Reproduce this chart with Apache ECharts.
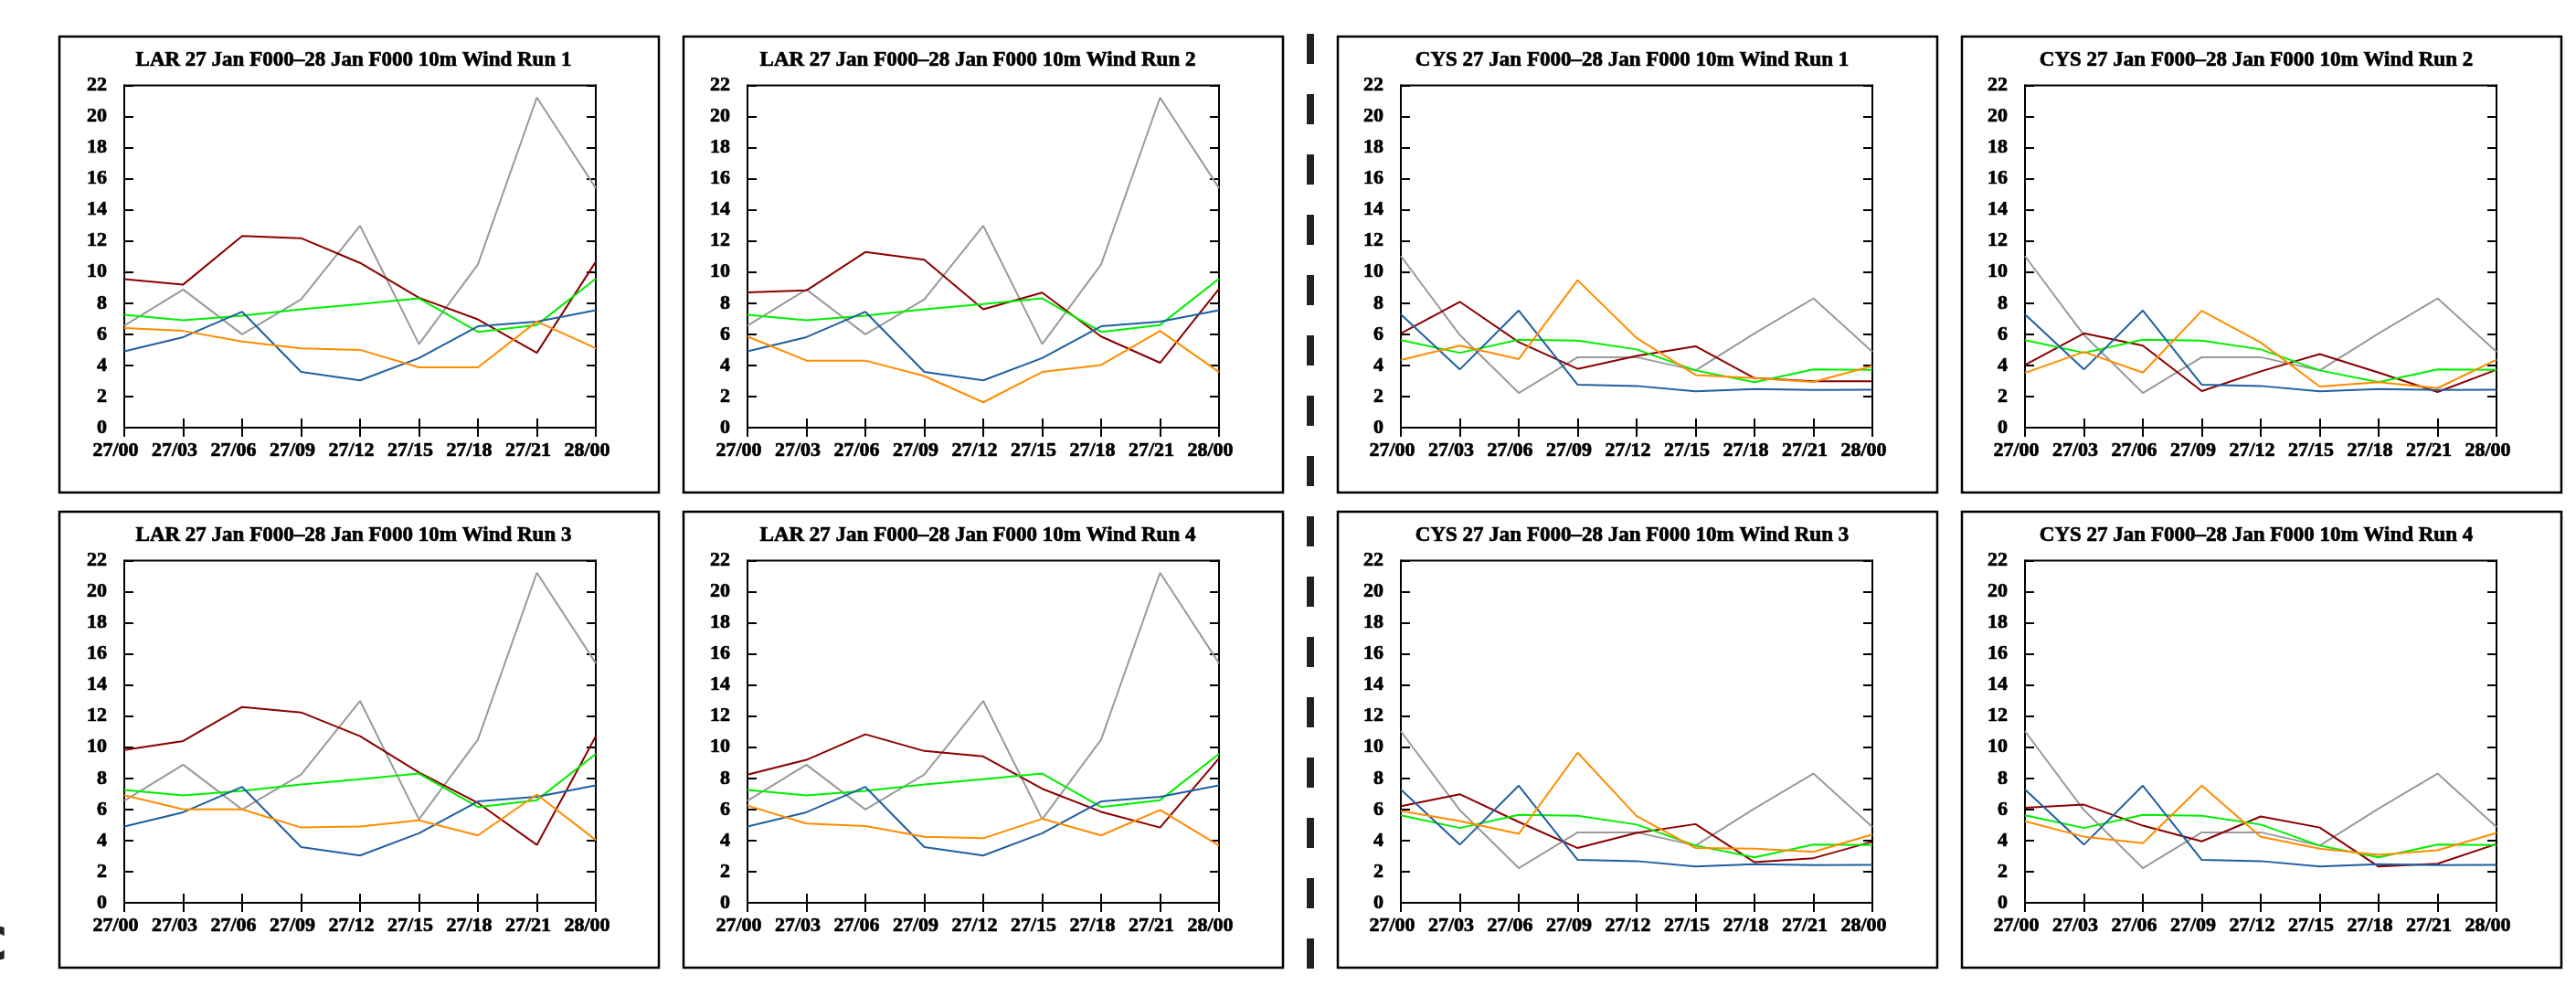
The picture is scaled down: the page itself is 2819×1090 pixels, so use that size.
<!DOCTYPE html>
<html>
<head>
<meta charset="utf-8">
<title>LAR / CYS 10m Wind Runs</title>
<script src="https://cdn.jsdelivr.net/npm/echarts@6/dist/echarts.min.js"></script>
<style>
  html, body { margin: 0; padding: 0; background: #fff; }
  #chart { width: 2819px; height: 1090px; }
</style>
</head>
<body>
<div id="chart"></div>
<script>
  // time steps on the x axis
  const hours = ['27/00', '27/03', '27/06', '27/09', '27/12', '27/15', '27/18', '27/21', '28/00']

  // LAR - lines shared by every run
  const larGray = [6.56, 8.88, 6.0, 8.25, 12.98, 5.37, 10.49, 21.22, 15.4]
  const larGreen = [7.25, 6.9, 7.19, 7.61, 7.95, 8.31, 6.16, 6.6, 9.58]
  const larBlue = [4.91, 5.82, 7.45, 3.58, 3.04, 4.47, 6.52, 6.82, 7.55]
  // LAR - lines per run
  const larRed1 = [9.54, 9.2, 12.32, 12.18, 10.59, 8.35, 6.96, 4.81, 10.67]
  const larRed2 = [8.7, 8.82, 11.29, 10.79, 7.61, 8.68, 5.86, 4.17, 8.92]
  const larRed3 = [9.82, 10.4, 12.59, 12.24, 10.71, 8.38, 6.42, 3.72, 10.71]
  const larRed4 = [8.24, 9.19, 10.83, 9.76, 9.41, 7.33, 5.85, 4.84, 9.29]
  const larOrange1 = [6.4, 6.22, 5.54, 5.1, 5.0, 3.88, 3.88, 6.82, 5.1]
  const larOrange2 = [5.86, 4.31, 4.31, 3.32, 1.63, 3.58, 4.03, 6.22, 3.58]
  const larOrange3 = [6.92, 6.01, 6.01, 4.84, 4.9, 5.3, 4.33, 6.96, 4.03]
  const larOrange4 = [6.25, 5.1, 4.94, 4.25, 4.15, 5.4, 4.33, 5.97, 3.68]

  // CYS - lines shared by every run
  const cysGray = [11.03, 5.96, 2.23, 4.53, 4.53, 3.68, 6.06, 8.31, 4.87]
  const cysGreen = [5.62, 4.81, 5.66, 5.6, 5.03, 3.68, 2.92, 3.74, 3.72]
  const cysBlue = [7.29, 3.74, 7.53, 2.76, 2.68, 2.33, 2.48, 2.42, 2.44]
  // CYS - lines per run
  const cysRed1 = [6.06, 8.09, 5.5, 3.78, 4.61, 5.23, 3.18, 2.98, 2.98]
  const cysRed2 = [4.03, 6.06, 5.27, 2.35, 3.62, 4.73, 3.54, 2.29, 3.72]
  const cysRed3 = [6.21, 6.98, 5.2, 3.52, 4.49, 5.06, 2.61, 2.87, 3.93]
  const cysRed4 = [6.11, 6.31, 4.96, 3.95, 5.55, 4.84, 2.33, 2.51, 3.78]
  const cysOrange1 = [4.35, 5.27, 4.41, 9.48, 5.76, 3.38, 3.18, 2.94, 3.97]
  const cysOrange2 = [3.52, 4.87, 3.54, 7.51, 5.47, 2.64, 2.92, 2.54, 4.37]
  const cysOrange3 = [5.91, 5.26, 4.43, 9.65, 5.57, 3.52, 3.48, 3.28, 4.39]
  const cysOrange4 = [5.24, 4.25, 3.83, 7.53, 4.25, 3.48, 3.08, 3.38, 4.49]

  const panels = [
    {site: 'LAR', run: 1, red: larRed1, orange: larOrange1},
    {site: 'LAR', run: 2, red: larRed2, orange: larOrange2},
    {site: 'CYS', run: 1, red: cysRed1, orange: cysOrange1},
    {site: 'CYS', run: 2, red: cysRed2, orange: cysOrange2},
    {site: 'LAR', run: 3, red: larRed3, orange: larOrange3},
    {site: 'LAR', run: 4, red: larRed4, orange: larOrange4},
    {site: 'CYS', run: 3, red: cysRed3, orange: cysOrange3},
    {site: 'CYS', run: 4, red: cysRed4, orange: cysOrange4}
  ]

  const colors = {
    gray: '#9a9a9a',
    red: '#8b0000',
    green: '#00ee00',
    blue: '#1f5fa0',
    orange: '#ff8c00'
  }

  // layout (px)
  const boxLeft = [65, 748, 1464, 2147]
  const plotLeft = [136, 818, 1533, 2216]
  const boxTop = [40, 560]
  const boxW = 656
  const boxH = 499
  const plotW = 516
  const plotH = 374.5

  const font = 'Liberation Serif'
  // thin outline on the text to get the heavy look of the original
  const labelStyle = {
    fontFamily: font, fontWeight: 'bold', fontSize: 22, color: '#000',
    textBorderColor: '#000', textBorderWidth: 0.7
  }
  const black = {color: '#000', width: 2}

  const grid = []
  const xAxis = []
  const yAxis = []
  const series = []
  const graphic = []

  panels.forEach((p, i) => {
    const col = i % 4
    const row = Math.floor(i / 4)
    const bl = boxLeft[col]
    const bt = boxTop[row]
    const shared = p.site === 'LAR'
      ? {gray: larGray, green: larGreen, blue: larBlue}
      : {gray: cysGray, green: cysGreen, blue: cysBlue}

    grid.push({
      left: plotLeft[col],
      top: bt + 53.5,
      width: plotW,
      height: plotH,
      show: true,
      borderColor: '#000',
      borderWidth: 2
    })

    // bottom axis with labels, top axis only for the mirrored ticks
    ;['bottom', 'top'].forEach(pos => {
      xAxis.push({
        gridIndex: i,
        type: 'category',
        data: hours,
        boundaryGap: false,
        position: pos,
        axisLine: {lineStyle: black},
        axisTick: {inside: true, length: 10, lineStyle: black},
        axisLabel: pos === 'bottom'
          ? Object.assign({interval: 0, margin: 14, padding: [0, 19, 0, 0]}, labelStyle)
          : {show: false},
        splitLine: {show: false}
      })
    })
    ;['left', 'right'].forEach(pos => {
      yAxis.push({
        gridIndex: i,
        type: 'value',
        min: 0,
        max: 22,
        interval: 2,
        position: pos,
        axisLine: {show: true, lineStyle: black},
        axisTick: {show: true, inside: true, length: 10, lineStyle: black},
        axisLabel: pos === 'left'
          ? Object.assign({margin: 19}, labelStyle)
          : {show: false},
        splitLine: {show: false}
      })
    })

    const lines = [
      ['gray', shared.gray],
      ['red', p.red],
      ['green', shared.green],
      ['blue', shared.blue],
      ['orange', p.orange]
    ]
    lines.forEach(([key, data]) => {
      series.push({
        type: 'line',
        name: p.site + ' run ' + p.run + ' ' + key,
        xAxisIndex: i * 2,
        yAxisIndex: i * 2,
        data: data,
        symbol: 'none',
        silent: true,
        lineStyle: {color: colors[key], width: 2},
        itemStyle: {color: colors[key]}
      })
    })

    // title and frame round each panel
    graphic.push({
      type: 'text',
      x: bl + 322,
      y: bt + 26,
      style: {
        text: p.site + ' 27 Jan F000\u201328 Jan F000 10m Wind Run ' + p.run,
        font: 'bold 23px "' + font + '"',
        fill: '#000',
        stroke: '#000',
        lineWidth: 0.7,
        align: 'center',
        verticalAlign: 'middle'
      }
    })
    graphic.push({
      type: 'rect',
      shape: {x: bl, y: bt, width: boxW, height: boxH},
      style: {fill: 'none', stroke: '#000', lineWidth: 2.5}
    })
  })

  // dashed divider between the two sites
  graphic.push({
    type: 'line',
    shape: {x1: 1434, y1: 37, x2: 1434, y2: 1061},
    style: {stroke: '#222', lineWidth: 8, lineDash: [33, 33]}
  })
  // cut-off glyph at the left edge
  graphic.push({
    type: 'text',
    x: -30,
    y: 1033,
    style: {
      text: 'c',
      font: 'bold 66px "DejaVu Sans"',
      fill: '#222',
      align: 'left',
      verticalAlign: 'middle'
    }
  })

  const chart = echarts.init(document.getElementById('chart'), null, {renderer: 'canvas'})
  chart.setOption({
    backgroundColor: '#fff',
    animation: false,
    grid: grid,
    xAxis: xAxis,
    yAxis: yAxis,
    series: series,
    graphic: graphic
  })
</script>
</body>
</html>
